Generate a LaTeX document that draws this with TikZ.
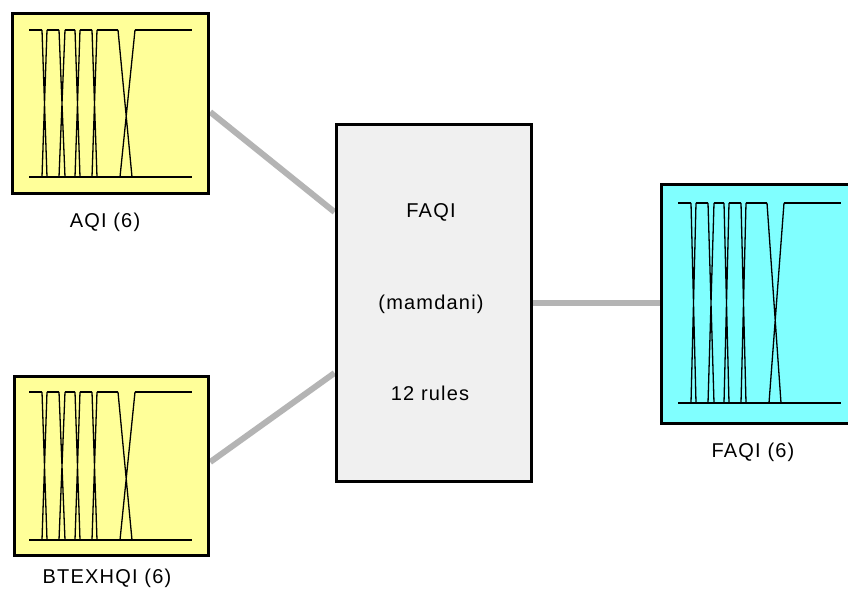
\documentclass[tikz,border=0pt]{standalone}
\usepackage{fontspec}
\setmainfont{Liberation Sans}[LetterSpace=6]
\usetikzlibrary{calc,backgrounds}
\definecolor{mfyellow}{HTML}{FFFF99}
\definecolor{mfcyan}{HTML}{80FFFF}
\definecolor{fisgray}{HTML}{F0F0F0}
\definecolor{linkgray}{HTML}{B4B4B4}
\tikzset{
  mfbox/.style={draw=black, line width=3.5pt, inner sep=0pt},
  fisbox/.style={draw=black, line width=3pt, fill=fisgray, inner sep=0pt},
  lbl/.style={font=\fontsize{20}{23}\selectfont, inner sep=0pt, anchor=center},
  link/.style={draw=linkgray, line width=6pt},
  mfline/.style={draw=black, line width=1.3pt}
}
\newcommand\mfcurves[3]{% x0, ytop, ybot
  \begin{scope}[shift={(#1,0)}]
    \draw[mfline] (0,#2) -- (13,#2) (18,#2) -- (30,#2) (36,#2) -- (46,#2)
      (51,#2) -- (63,#2) (68,#2) -- (89,#2) (106,#2) -- (163,#2);
    \draw[mfline] (0,#3) -- (163,#3);
    \foreach \a/\b in {13/18,30/36,46/51,63/68}
      {\draw[mfline] (\a,#2) -- (\b,#3) (\a,#3) -- (\b,#2);}
    \draw[mfline] (89,#2) -- (103,#3) (91,#3) -- (106,#2);
  \end{scope}}
\begin{document}
\begin{tikzpicture}[x=1pt,y=-1pt]
  \useasboundingbox (0,0) rectangle (848,594);
  \clip (0,0) rectangle (848,594);
  % boxes
  \node[mfbox, fill=mfyellow, minimum width=196pt, minimum height=180pt] (aqi) at (110.5,103.5) {};
  \node[mfbox, fill=mfyellow, minimum width=194pt, minimum height=179pt] (btex) at (111.5,466) {};
  \node[mfbox, fill=mfcyan, minimum width=200pt, minimum height=239pt] (out) at (761.5,304) {};
  \node[fisbox, minimum width=195pt, minimum height=357pt] (fis) at (433.5,303) {};
  % membership functions
  \mfcurves{29}{30}{177}
  \mfcurves{29}{392}{540}
  \mfcurves{678}{203}{403}
  % labels
  \node[lbl] (aqil) at (105,222) {AQI (6)};
  \node[lbl] (btexl) at (107,578) {BTEXHQI (6)};
  \node[lbl] (outl) at (753,452) {FAQI (6)};
  \node[lbl] (fist) at (431,212) {FAQI};
  \node[lbl] (fism) at (431,304) {(mamdani)};
  \node[lbl] (fisr) at (430,393) {12 rules};
  % connectors
  \begin{pgfonlayer}{background}
    \fill[white] (0,0) rectangle (848,594);
    \draw[link] ([yshift=-8.5pt]aqi.east) -- ([yshift=91pt]fis.west);
    \draw[link] ([yshift=4pt]btex.east) -- ([yshift=-70pt]fis.west);
    \draw[link] (fis.east) -- (fis.east -| out.west);
  \end{pgfonlayer}
\end{tikzpicture}
\end{document}
